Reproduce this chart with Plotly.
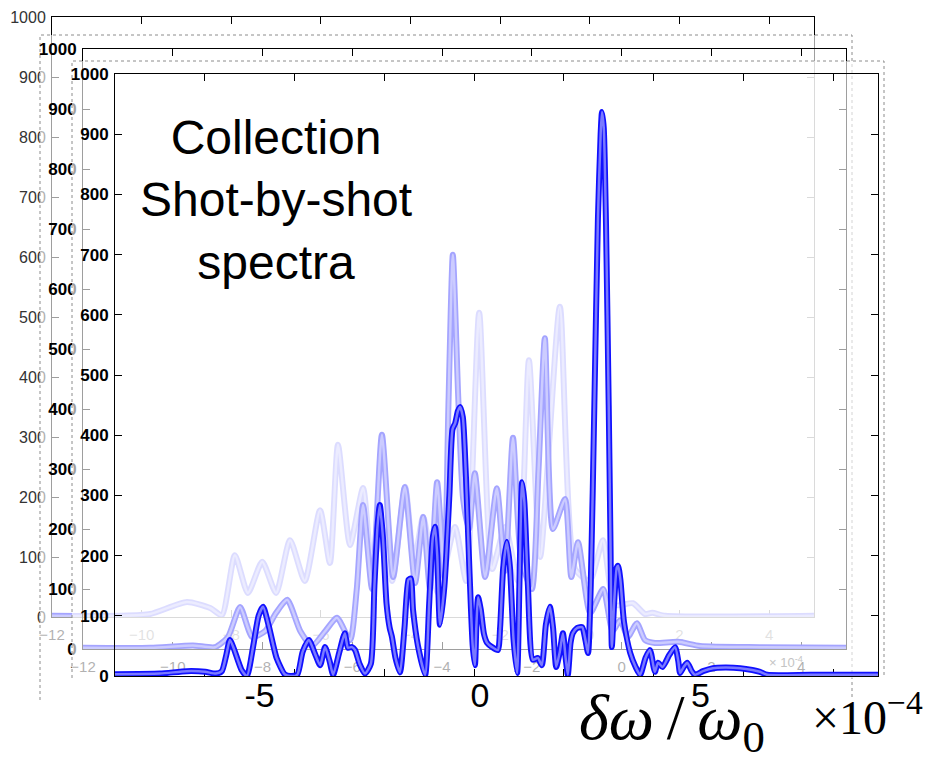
import plotly.graph_objects as go

# ---- data: three shot-by-shot spectra, x in units of 1e-4, y in counts ----
BACK_X = [-12.0, -10.48, -9.81, -8.99, -8.47, -8.21, -7.92, -7.63, -7.31, -7.00, -6.69, -6.36,
          -6.02, -5.80, -5.62, -5.35, -5.06, -4.86, -4.64, -4.41, -4.12, -3.92, -3.72, -3.39,
          -3.01, -2.76, -2.47, -2.18, -1.89, -1.60, -1.36, -1.11, -0.67, -0.33, 0.0, 0.29,
          0.56, 0.96, 1.23, 1.39, 1.68, 5.0]
BACK_Y = [2, 2, 5, 25, 15, 3, 103, 40, 92, 40, 128, 60,
          178, 90, 287, 120, 215, 80, 150, 60, 217, 90, 167, 40,
          150, 60, 507, 80, 150, 60, 428, 100, 517, 80, 60, 128,
          20, 23, 5, 7, 2, 2]

MIDDLE_X = [-12.0, -10.5, -9.55, -9.06, -8.77, -8.50, -8.23, -7.94, -7.70, -7.45, -7.16, -6.90,
            -6.60, -6.34, -6.05, -5.90, -5.76, -5.56, -5.34, -5.09, -4.83, -4.60, -4.42, -4.27,
            -4.11, -3.95, -3.86, -3.76, -3.64, -3.53, -3.40, -3.27, -3.04, -2.78, -2.60, -2.42,
            -2.24, -2.00, -1.85, -1.71, -1.53, -1.26, -1.12, -0.97, -0.70, -0.41, -0.20, -0.03,
            0.14, 0.34, 0.52, 0.74, 1.26, 1.75, 3.08, 5.0]
MIDDLE_Y = [2, 2, 6, 3, 20, 70, 20, 30, 60, 82, 30, 5,
            30, 52, 15, 100, 240, 100, 357, 120, 270, 110, 220, 100,
            278, 120, 400, 657, 420, 250, 200, 293, 120, 268, 130, 352,
            150, 100, 300, 518, 200, 250, 120, 178, 60, 100, 30, 48,
            20, 43, 15, 10, 12, 5, 3, 2]

FRONT_X = [-12.0, -11.0, -10.4, -9.99, -9.75, -9.62, -9.52, -9.44, -9.35, -9.18, -9.06, -8.92,
           -8.80, -8.70, -8.58, -8.40, -8.22, -8.10, -7.94, -7.82, -7.68, -7.55, -7.43, -7.32,
           -7.22, -7.14, -7.00, -6.88, -6.81, -6.72, -6.65, -6.55, -6.43, -6.30, -6.22, -6.15,
           -6.10, -6.03, -5.95, -5.88, -5.83, -5.75, -5.65, -5.55, -5.46, -5.41, -5.36, -5.25,
           -5.09, -5.00, -4.92, -4.87, -4.82, -4.76, -4.66, -4.55, -4.48, -4.42, -4.36, -4.31,
           -4.25, -4.18, -4.10, -4.03, -3.98, -3.95, -3.91, -3.85, -3.78, -3.71, -3.60, -3.47,
           -3.42, -3.35, -3.27, -3.20, -3.12, -3.04, -2.99, -2.95, -2.93, -2.88, -2.80, -2.69,
           -2.58, -2.49, -2.40, -2.31, -2.24, -2.17, -2.09, -2.02, -1.96, -1.91, -1.85, -1.80,
           -1.70, -1.59, -1.52, -1.46, -1.40, -1.32, -1.24, -1.18, -1.15, -1.11, -1.06, -1.00,
           -0.96, -0.93, -0.88, -0.82, -0.79, -0.74, -0.66, -0.52, -0.40, -0.30, -0.18, -0.08,
           0.0, 0.03, 0.10, 0.20, 0.35, 0.48, 0.55, 0.59, 0.67, 0.75, 0.85, 0.92,
           1.10, 1.32, 1.60, 1.93, 2.20, 2.37, 2.53, 3.50, 5.0]
FRONT_Y = [3, 4, 8, 7, 4, 8, 35, 60, 45, 10, 0, 50,
           100, 115, 85, 30, 3, 0, 2, 40, 60, 38, 18, 48,
           25, 2, 40, 71, 47, 48, 43, 20, 4, 20, 150, 250,
           284, 230, 120, 80, 65, 30, 6, 80, 160, 162, 110, 50,
           2, 120, 230, 248, 200, 85, 150, 300, 410, 420, 440, 447,
           430, 330, 170, 50, 18, 80, 131, 110, 70, 55, 48, 43,
           80, 180, 223, 180, 60, 5, 150, 290, 322, 290, 150, 27,
           30, 18, 85, 115, 80, 15, 40, 71, 30, 2, 55, 71,
           80, 81, 60, 38, 150, 450, 760, 900, 937, 910, 750, 450,
           220, 48, 120, 180, 183, 160, 90, 38, 15, 2, 30, 43,
           15, 7, 22, 15, 35, 48, 25, 5, 15, 22, 8, 2,
           8, 13, 14, 13, 10, 7, 2, 2, 2]

X_RANGE = [-12, 5]
Y_RANGE = [0, 1000]
BIG_TICKS = [-5, 0, 5]
BIG_TICK_TEXT = ["-5", "0", "5"]
BIG_RANGE = [-8.28, 9.03]

W, H = 928, 761
# axes boxes (left, top, right, bottom) in pixels, back to front
BACK_BOX = (52, 17, 814, 617)
MIDDLE_BOX = (83, 49, 846, 649)
FRONT_BOX = (115, 74, 878, 676)
# pasted-screenshot borders that wash out what lies behind them
FADE_BOXES = [(40, 35, 852, 700), (72, 61, 884, 678)]

SANS = "Liberation Sans, Arial, sans-serif"
SERIF = "Liberation Serif, Times New Roman, serif"


def xdom(box):
    return [box[0] / W, box[2] / W]


def ydom(box):
    return [1 - box[3] / H, 1 - box[1] / H]


def frame_x(box, anchor, labels, font):
    return dict(domain=xdom(box), anchor=anchor, range=X_RANGE, dtick=2, tick0=0,
                ticks="inside", ticklen=7, tickcolor="black", showline=True, linecolor="black",
                linewidth=1, mirror="ticks", showgrid=False, zeroline=False, automargin=False,
                ticklabelstandoff=4, showticklabels=labels, tickfont=font, layer="below traces")


def frame_y(box, anchor, font):
    return dict(domain=ydom(box), anchor=anchor, range=Y_RANGE, dtick=100, tick0=0,
                ticks="inside", ticklen=7, tickcolor="black", showline=True, linecolor="black",
                linewidth=1, mirror="ticks", showgrid=False, zeroline=False, automargin=False,
                ticklabelstandoff=2, tickfont=font, layer="below traces")


def blank_axis(anchor):
    return dict(domain=[0, 1], range=[0, 1], anchor=anchor, visible=False,
                automargin=False, fixedrange=True)


def add_spectrum(fig, x, y, xa, ya):
    # thick blue stroke with a lighter core, as in the MATLAB export
    fig.add_trace(go.Scatter(x=x, y=y, mode="lines", xaxis=xa, yaxis=ya,
                             line=dict(color="#1010ff", width=6, shape="spline", smoothing=0.6),
                             hoverinfo="skip", showlegend=False))
    fig.add_trace(go.Scatter(x=x, y=y, mode="lines", xaxis=xa, yaxis=ya,
                             line=dict(color="#7a7aff", width=2.5, shape="spline", smoothing=0.6),
                             hoverinfo="skip", showlegend=False))


fig = go.Figure()
add_spectrum(fig, BACK_X, BACK_Y, "x", "y")
fig.add_trace(go.Scatter(x=[], y=[], xaxis="x2", yaxis="y2", showlegend=False))
add_spectrum(fig, MIDDLE_X, MIDDLE_Y, "x3", "y3")
fig.add_trace(go.Scatter(x=[], y=[], xaxis="x4", yaxis="y4", showlegend=False))
add_spectrum(fig, FRONT_X, FRONT_Y, "x5", "y5")
fig.add_trace(go.Scatter(x=[], y=[], xaxis="x6", yaxis="y5", showlegend=False))

shapes = []
for (l, t, r, b), ref in zip(FADE_BOXES, ["2", "4"]):
    x0, x1 = l / W, r / W
    y0, y1 = 1 - b / H, 1 - t / H
    shapes.append(dict(type="rect", xref="x" + ref, yref="y" + ref, layer="below",
                       x0=x0, x1=x1, y0=y0, y1=y1, line_width=0,
                       fillcolor="rgba(255,255,255,0.62)"))
    shapes.append(dict(type="path", xref="x" + ref, yref="y" + ref, layer="below",
                       path=f"M {x0},{y0} L {x0},{y1} L {x1},{y1} L {x1},{y0}",
                       line=dict(color="#8c8c8c", width=1, dash="dot")))

fig.update_layout(
    template="none",
    width=W, height=H,
    margin=dict(l=0, r=0, t=0, b=0, pad=0),
    paper_bgcolor="white",
    plot_bgcolor="rgba(0,0,0,0)",
    showlegend=False,
    font=dict(family=SANS, color="black"),
    xaxis=frame_x(BACK_BOX, "y", True, dict(size=15, color="#333333")),
    yaxis=frame_y(BACK_BOX, "x", dict(size=16, color="#333333")),
    xaxis2=blank_axis("y2"), yaxis2=blank_axis("x2"),
    xaxis3=frame_x(MIDDLE_BOX, "y3", True, dict(size=15, color="#333333")),
    yaxis3=frame_y(MIDDLE_BOX, "x3", dict(size=17, color="black", weight="bold")),
    xaxis4=blank_axis("y4"), yaxis4=blank_axis("x4"),
    xaxis5=frame_x(FRONT_BOX, "y5", False, dict(size=15, color="black")),
    yaxis5=frame_y(FRONT_BOX, "x5", dict(size=17, color="black", weight="bold")),
    xaxis6=dict(domain=xdom(FRONT_BOX), anchor="y5", overlaying="x5", range=BIG_RANGE,
                tickvals=BIG_TICKS, ticktext=BIG_TICK_TEXT, ticks="", showline=False,
                showgrid=False, zeroline=False, automargin=False, ticklabelstandoff=-4,
                tickfont=dict(size=34, color="black", family=SANS)),
    shapes=shapes,
    annotations=[
        dict(text="Collection<br>Shot-by-shot<br>spectra", x=276 / W, y=1 - 200 / H,
             xref="paper", yref="paper", xanchor="center", yanchor="middle",
             showarrow=False, align="center",
             font=dict(size=48, family=SANS, color="black")),
        dict(text="<i>δω</i>\u2009/\u2009<i>ω</i><sub>0</sub>", x=577 / W, y=1 - 722 / H,
             xref="paper", yref="paper", xanchor="left", yanchor="middle", showarrow=False,
             font=dict(size=64, family=SERIF, color="black")),
        dict(text="×10<sup>−4</sup>", x=810 / W, y=1 - 714 / H,
             xref="paper", yref="paper", xanchor="left", yanchor="middle", showarrow=False,
             font=dict(size=48, family=SERIF, color="black")),
        dict(text="× 10<sup>-4</sup>", x=786 / W, y=1 - 662 / H,
             xref="paper", yref="paper", xanchor="center", yanchor="middle", showarrow=False,
             font=dict(size=13, family=SANS, color="#c4c4c4")),
    ],
)

# the page's default 8px body margin would push the figure off the window
fig.write_html("out.html", config={"displayModeBar": False},
               post_script="document.body.style.margin='0';")
